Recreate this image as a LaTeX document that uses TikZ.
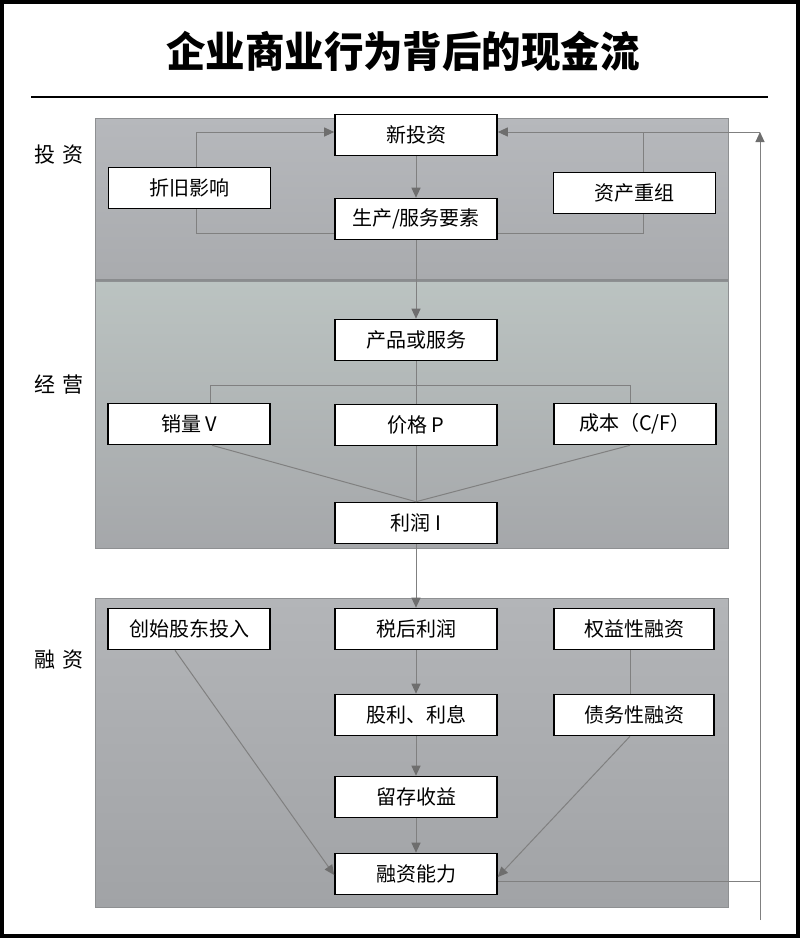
\documentclass[tikz,border=0pt]{standalone}
\usepackage{fontspec}
\newfontfamily\cjk{Noto Sans CJK SC}
\usetikzlibrary{arrows.meta,calc}
\definecolor{lnclr}{HTML}{808080}
\definecolor{tipclr}{HTML}{6E6E6E}
\definecolor{bandedge}{HTML}{8E9092}
\definecolor{bandsep}{HTML}{8A8C8E}
\definecolor{bAt}{HTML}{B6B8BC}
\definecolor{bAb}{HTML}{A9ABAE}
\definecolor{bBt}{HTML}{BBC3C1}
\definecolor{bBb}{HTML}{A5A7AA}
\definecolor{bCt}{HTML}{B3B5B8}
\definecolor{bCb}{HTML}{A1A3A6}
\begin{document}
\begin{tikzpicture}[x=1pt,y=-1pt,
  box/.style={draw=black,line width=1.6pt,fill=white,minimum width=162pt,minimum height=41pt,inner sep=0pt,font=\cjk\fontsize{20}{20}\selectfont},
  ln/.style={draw=lnclr,line width=1pt},
  arr/.style={ln,-{Triangle[length=10pt,width=9pt,fill=tipclr,color=tipclr]}},
  sect/.style={font=\cjk\fontsize{21}{21}\selectfont},
  band/.style={draw=bandedge,line width=0.8pt}]
\useasboundingbox (0,0) rectangle (800,938);
\fill[white] (0,0) rectangle (800,938);
\draw[line width=3.6pt] (1.8,1.8) rectangle (798.2,936.2);
% title
\node[font=\cjk\bfseries\fontsize{42}{42}\selectfont,xscale=0.94] (title) at (403,51) {企业商业行为背后的现金流};
\draw[line width=2pt] (31,97) -- (768,97);
% bands
\shade[band,top color=bAt,bottom color=bAb] (95,118) rectangle (728,280);
\draw[draw=bandsep,line width=1.2pt] (95,280) -- (728,280);
\shade[band,top color=bBt,bottom color=bBb] (95,281) rectangle (728,548);
\shade[band,top color=bCt,bottom color=bCb] (95,598) rectangle (728,907);
% section labels
\node[sect] (lab1) at (59,155) {投\,\,资};
\node[sect] (lab2) at (59,385) {经\,\,营};
\node[sect] (lab3) at (59,660) {融\,\,资};
% boxes
\node[box] (xin) at (416,135) {新投资};
\node[box] (zhejiu) at (189.5,188) {折旧影响};
\node[box] (zichan) at (634.5,193) {资产重组};
\node[box] (sheng) at (416,219) {生产/服务要素};
\node[box] (chanpin) at (416,340) {产品或服务};
\node[box] (xiao) at (189,424) {销量 V};
\node[box] (jia) at (416,425) {价格 P};
\node[box] (cheng) at (635,424) {成本（C/F）};
\node[box] (li) at (416,523) {利润 I};
\node[box] (chuang) at (189,629) {创始股东投入};
\node[box] (shui) at (416,629) {税后利润};
\node[box,minimum width=160pt] (quan) at (634,629) {权益性融资};
\node[box] (gu) at (416,715) {股利、利息};
\node[box,minimum width=160pt] (zhai) at (634,715) {债务性融资};
\node[box] (liu) at (416,797) {留存收益};
\node[box] (rong) at (416,874) {融资能力};
% right loop coordinates
\coordinate (rb) at (760,881);
\coordinate (rt) at (760,132);
\coordinate (rbot) at (760,920);
% investment connectors
\draw[arr] ([xshift=7pt]zhejiu.north) |- ([yshift=3pt]xin.west);
\draw[ln] ([xshift=8.5pt]zichan.north) -- ([xshift=8.5pt]zichan.north |- rt);
\draw[arr] (rt) -- ([yshift=3pt]xin.east);
\draw[arr] (xin.south) -- (sheng.north);
\draw[ln] ([xshift=7pt]zhejiu.south) |- ([yshift=-14pt]sheng.west);
\draw[ln] ([xshift=8.5pt]zichan.south) |- ([yshift=-14pt]sheng.east);
\draw[arr] (sheng.south) -- (chanpin.north);
% operations connectors
\draw[ln] (chanpin.south) -- (jia.north);
\draw[ln] ([xshift=21pt]xiao.north) -- ++(0,-17) -| ([xshift=-5pt]cheng.north);
\draw[ln] ([xshift=23pt]xiao.south) -- (li.north);
\draw[ln] ([xshift=-5pt]cheng.south) -- (li.north);
\draw[ln] (jia.south) -- (li.north);
\draw[arr] (li.south) -- (shui.north);
% financing connectors
\draw[arr] (shui.south) -- (gu.north);
\draw[arr] (gu.south) -- (liu.north);
\draw[arr] (liu.south) -- (rong.north);
\draw[ln] ([xshift=-4pt]quan.south) -- ([xshift=-4pt]zhai.north);
\draw[arr] ([xshift=-14pt]chuang.south) -- ([yshift=-1pt]rong.west);
\draw[arr] ([xshift=-4pt]zhai.south) -- ([yshift=-3pt]rong.east);
\draw[ln] ([yshift=-7pt]rong.east) -- (rb);
\draw[arr] (rbot) -- (rt);
\end{tikzpicture}
\end{document}
